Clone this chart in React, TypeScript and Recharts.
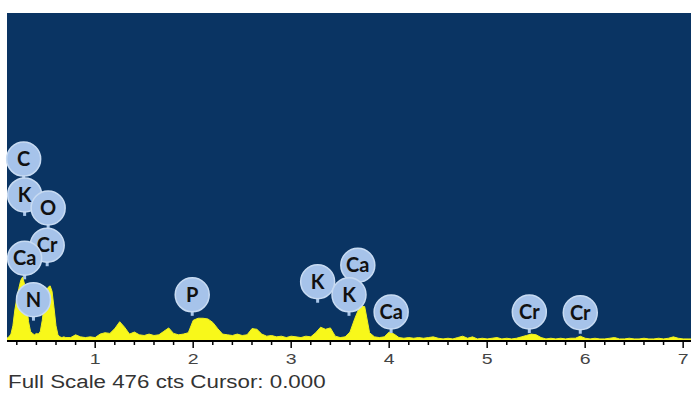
import { ComposedChart, Area, XAxis, YAxis, CartesianGrid, ReferenceDot } from "recharts";

// energy (keV) and counts
const energy = [
  0.1, 0.12, 0.14, 0.16, 0.18, 0.2, 0.22, 0.24, 0.26, 0.28, 0.3, 0.32, 0.34, 0.36, 0.38, 0.4,
  0.42, 0.44, 0.46, 0.48, 0.5, 0.52, 0.54, 0.56, 0.58, 0.6, 0.62, 0.64, 0.66, 0.68, 0.7,
  0.75, 0.8, 0.85, 0.9, 0.95, 1.0, 1.05, 1.1, 1.15, 1.2, 1.25, 1.3, 1.35, 1.4, 1.45, 1.5,
  1.55, 1.6, 1.65, 1.7, 1.75, 1.8, 1.85, 1.9, 1.95, 2.0, 2.05, 2.1, 2.15, 2.2, 2.25, 2.3,
  2.35, 2.4, 2.45, 2.5, 2.55, 2.6, 2.65, 2.7, 2.75, 2.8, 2.85, 2.9, 2.95, 3.0, 3.05, 3.1,
  3.15, 3.2, 3.25, 3.3, 3.35, 3.4, 3.45, 3.5, 3.55, 3.6, 3.65, 3.7, 3.75, 3.8, 3.85, 3.9,
  3.95, 4.0, 4.05, 4.1, 4.15, 4.2, 4.25, 4.3, 4.35, 4.4, 4.45, 4.5, 4.55, 4.6, 4.65, 4.7,
  4.75, 4.8, 4.85, 4.9, 4.95, 5.0, 5.05, 5.1, 5.15, 5.2, 5.25, 5.3, 5.35, 5.4, 5.45, 5.5,
  5.55, 5.6, 5.65, 5.7, 5.75, 5.8, 5.85, 5.9, 5.95, 6.0, 6.05, 6.1, 6.15, 6.2, 6.25, 6.3,
  6.35, 6.4, 6.45, 6.5, 6.55, 6.6, 6.65, 6.7, 6.75, 6.8, 6.85, 6.9, 6.95, 7.0, 7.05, 7.08,
];
const counts = [
  4, 6, 10, 22, 45, 62, 76, 88, 93, 82, 55, 28, 14, 11, 9, 11,
  10, 14, 30, 55, 72, 78, 80, 72, 48, 22, 9, 6, 5, 6, 5,
  5, 9, 6, 5, 6, 5, 10, 12, 11, 18, 28, 20, 10, 13, 9, 8,
  10, 8, 9, 14, 19, 11, 9, 10, 12, 30, 33, 33, 32, 27, 18, 10,
  9, 8, 10, 8, 9, 18, 17, 10, 7, 8, 6, 7, 5, 7, 6, 5,
  7, 6, 12, 20, 17, 19, 7, 5, 6, 13, 33, 50, 50, 12, 6, 5,
  6, 13, 10, 5, 4, 5, 4, 5, 4, 5, 6, 4, 3, 4, 3, 5,
  7, 4, 6, 3, 4, 3, 4, 5, 3, 4, 3, 4, 6, 8, 10, 9,
  5, 3, 4, 3, 4, 3, 4, 4, 7, 4, 3, 4, 3, 3, 4, 5,
  3, 3, 4, 3, 3, 4, 3, 3, 4, 3, 4, 6, 4, 3, 3, 3,
];

const data = energy.map((e, i) => ({ e, c: counts[i] }));

// element markers: name, energy, height (counts) of bubble centre
const peakNames = ["C", "K", "O", "Cr", "Ca", "N", "P", "K", "Ca", "K", "Ca", "Cr", "Cr"];
const peakEnergy = [0.27, 0.28, 0.52, 0.51, 0.28, 0.37, 1.99, 3.27, 3.68, 3.59, 4.02, 5.43, 5.95];
const peakLevel = [264, 212, 193, 139, 120, 60, 67, 86, 110, 67, 42, 42, 41];

const majorTicks = [1, 2, 3, 4, 5, 6, 7];
const allTicks = [
  0.2, 0.4, 0.6, 0.8, 1, 1.2, 1.4, 1.6, 1.8, 2, 2.2, 2.4, 2.6, 2.8, 3, 3.2, 3.4, 3.6, 3.8,
  4, 4.2, 4.4, 4.6, 4.8, 5, 5.2, 5.4, 5.6, 5.8, 6, 6.2, 6.4, 6.6, 6.8, 7,
];

const Tick = (props: any) => {
  const { x, y, payload } = props;
  const major = majorTicks.includes(payload.value);
  return (
    <g>
      <line x1={x} x2={x} y1={y} y2={y + (major ? 7 : 4)} stroke="#000" strokeWidth={1.5} />
      {major && (
        <text
          transform={`translate(${x},${y + 23}) scale(1.3,1)`}
          textAnchor="middle"
          fontSize={15}
          fill="#444"
          fontFamily="Liberation Sans, Arial"
        >
          {payload.value}
        </text>
      )}
    </g>
  );
};

const Bubble = (label: string) => (props: any) => {
  const { cx, cy } = props;
  const r = 17;
  return (
    <g>
      <line x1={cx} x2={cx} y1={cy + r - 2} y2={cy + r + 4} stroke="#a9c6ea" strokeWidth={3} />
      <circle cx={cx} cy={cy} r={r} fill="#a6c3ea" stroke="#c8dbf2" strokeWidth={1.5} />
      <text x={cx} y={cy + 7} textAnchor="middle" fontSize={20} fontWeight={700} fill="#111" fontFamily="Lato, Open Sans, sans-serif">
        {label}
      </text>
    </g>
  );
};

export default function App() {
  return (
    <div style={{ position: "absolute", left: 0, top: 0, width: 691, height: 394, background: "#fff" }}>
      <ComposedChart width={691} height={394} data={data} margin={{ top: 13, right: 0, left: 7, bottom: 23 }}>
        <CartesianGrid fill="#0a3463" stroke="none" horizontal={false} vertical={false} />
        <XAxis
          dataKey="e"
          type="number"
          domain={[0.1, 7.08]}
          ticks={allTicks}
          tick={<Tick />}
          tickLine={false}
          tickSize={0}
          tickMargin={0}
          height={30}
          axisLine={{ stroke: "#000", strokeWidth: 2 }}
          interval={0}
        />
        <YAxis type="number" domain={[0, 476]} hide />
        <Area
          type="linear"
          dataKey="c"
          fill="#f8f81a"
          fillOpacity={1}
          stroke="#f0f020"
          strokeWidth={1}
          isAnimationActive={false}
          dot={false}
          activeDot={false}
        />
        {peakNames.map((n, i) => (
          <ReferenceDot
            key={i}
            x={peakEnergy[i]}
            y={peakLevel[i]}
            r={17}
            ifOverflow="visible"
            shape={Bubble(n)}
          />
        ))}
      </ComposedChart>
      <div
        style={{
          position: "absolute",
          left: 8,
          top: 372,
          fontFamily: "Liberation Sans, Arial, sans-serif",
          fontSize: 18,
          color: "#333",
          whiteSpace: "nowrap",
          transform: "scaleX(1.24)",
          transformOrigin: "left top",
        }}
      >
        Full Scale 476 cts Cursor: 0.000
      </div>
    </div>
  );
}
